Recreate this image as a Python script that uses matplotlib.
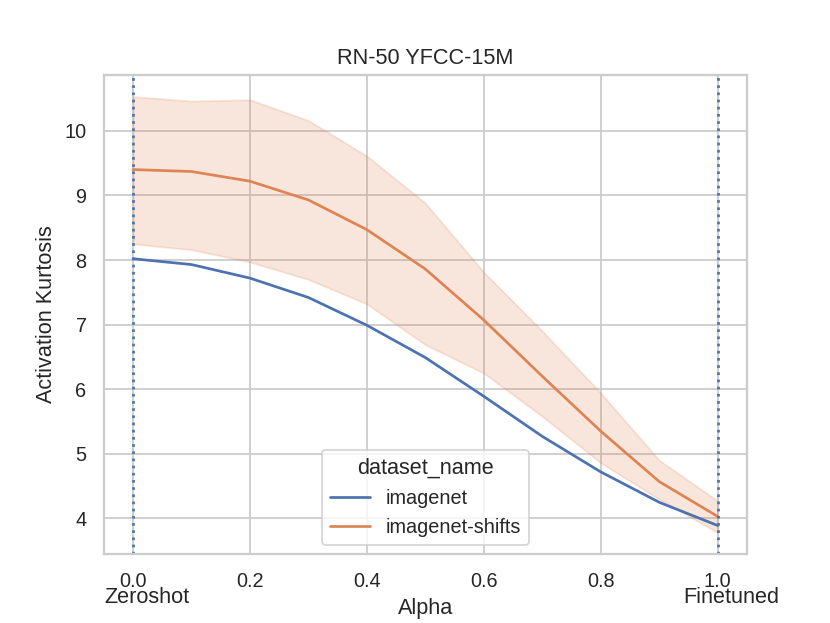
import matplotlib
matplotlib.use("Agg")
import matplotlib.pyplot as plt
import seaborn as sns

sns.set_theme(style="whitegrid", context="notebook")
plt.rcParams['font.family'] = ['Liberation Sans', 'DejaVu Sans']

alpha = [0.0, 0.1, 0.2, 0.3, 0.4, 0.5, 0.6, 0.7, 0.8, 0.9, 1.0]
imagenet = [8.02, 7.93, 7.72, 7.42, 6.99, 6.49, 5.89, 5.27, 4.72, 4.25, 3.89]
shifts_mean = [9.40, 9.37, 9.22, 8.93, 8.47, 7.86, 7.07, 6.20, 5.35, 4.57, 4.03]
shifts_upper = [10.53, 10.46, 10.48, 10.16, 9.61, 8.88, 7.81, 6.90, 5.94, 4.90, 4.27]
shifts_lower = [8.25, 8.16, 7.97, 7.70, 7.32, 6.69, 6.25, 5.58, 4.86, 4.30, 3.78]
series_names = ["imagenet", "imagenet-shifts"]
title = "RN-50 YFCC-15M"

pal = sns.color_palette("deep")
fig, ax = plt.subplots(figsize=(830 / 130, 623 / 130), dpi=130)

ax.plot(alpha, imagenet, color=pal[0], label=series_names[0])
ax.plot(alpha, shifts_mean, color=pal[1], label=series_names[1])
ax.fill_between(alpha, shifts_lower, shifts_upper, color=pal[1], alpha=0.2)

ax.axvline(0.0, color=pal[0], linestyle=":")
ax.axvline(1.0, color=pal[0], linestyle=":")

ax.set_xticks([0.0, 0.2, 0.4, 0.6, 0.8, 1.0])
ax.set_yticks([4, 5, 6, 7, 8, 9, 10])
ax.set_xlabel("Alpha")
ax.set_ylabel("Activation Kurtosis")
ax.set_title(title)
ax.legend(title="dataset_name", loc="lower center")

for xv, lab in [(0.0, "Zeroshot"), (1.0, "Finetuned")]:
    ax.annotate(lab, xy=(xv, 0), xycoords=("data", "axes fraction"),
                xytext=(7.5, -27), textcoords="offset points",
                ha="center", va="baseline", fontsize=12, color="0.15")

fig.savefig("out.png", dpi=130)
